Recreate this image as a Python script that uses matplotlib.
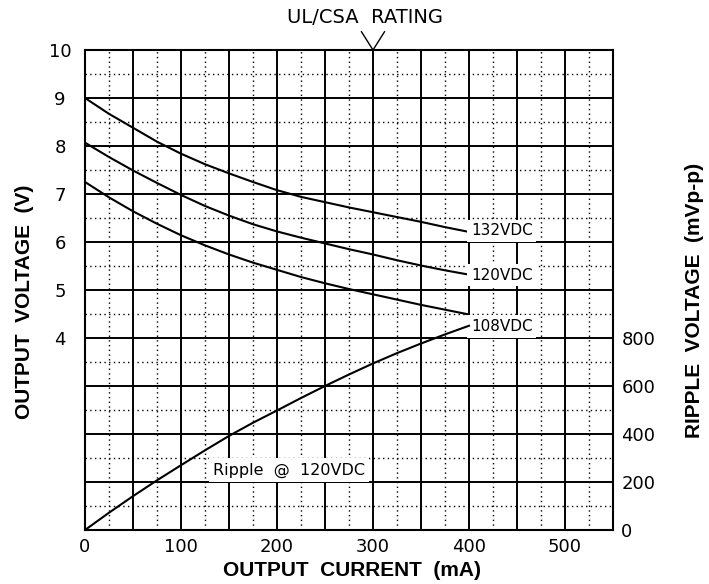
import numpy as np
import matplotlib
matplotlib.use("Agg")
import matplotlib.pyplot as plt
from matplotlib.ticker import MultipleLocator

plt.rcParams['font.family'] = ['DejaVu Sans']

# 数据：输出电流 (mA) 与输出电压 (V) / 纹波 (mVp-p)
current = [0, 25, 50, 75, 100, 125, 150, 175, 200, 225, 250, 275, 300, 325, 350, 375, 400]
v_132 = [9.00, 8.67, 8.38, 8.09, 7.84, 7.62, 7.43, 7.25, 7.08,
         6.94, 6.83, 6.72, 6.62, 6.52, 6.42, 6.31, 6.21]
v_120 = [8.07, 7.77, 7.49, 7.23, 6.98, 6.75, 6.55, 6.37, 6.22,
         6.09, 5.97, 5.85, 5.74, 5.62, 5.51, 5.41, 5.32]
v_108 = [7.25, 6.93, 6.64, 6.38, 6.14, 5.93, 5.74, 5.57, 5.42,
         5.27, 5.14, 5.02, 4.91, 4.80, 4.69, 4.59, 4.49]
ripple = [0, 72, 141, 207, 270, 332, 392, 447, 498,
          550, 600, 648, 694, 737, 777, 815, 851]

left_ticks = [4, 5, 6, 7, 8, 9, 10]
right_ticks = [0, 200, 400, 600, 800]
bottom_ticks = [0, 100, 200, 300, 400, 500]

fig = plt.figure(figsize=(7.09, 5.84), dpi=100)
ax = fig.add_axes([85 / 709, 54 / 584, 528 / 709, 480 / 584])

ax.set_xlim(0, 550)
ax.set_ylim(0, 10)

# 网格：实线 + 点线
ax.xaxis.set_major_locator(MultipleLocator(50))
ax.xaxis.set_minor_locator(MultipleLocator(25))
ax.yaxis.set_major_locator(MultipleLocator(1))
ax.yaxis.set_minor_locator(MultipleLocator(0.5))
ax.grid(which='major', color='black', linewidth=1.4, linestyle='-')
ax.grid(which='minor', color='black', linewidth=1.0, linestyle=(0, (1, 2.4)))
ax.set_axisbelow(True)

xt = np.arange(0, 551, 50)
ax.set_xticks(xt)
ax.set_xticklabels([str(t) if t in bottom_ticks else '' for t in xt])
ax.set_yticks(np.arange(0, 11, 1))
ax.set_yticklabels([str(t) if t in left_ticks else '' for t in range(0, 11)])
ax.tick_params(which='both', length=0)
ax.tick_params(axis='x', pad=6, labelsize=13)
ax.tick_params(axis='y', pad=18, labelsize=13)
for lab in ax.get_yticklabels():
    lab.set_horizontalalignment('center')

for s in ax.spines.values():
    s.set_linewidth(1.5)

ax.plot(current, v_132, color='black', linewidth=1.5, zorder=3)
ax.plot(current, v_120, color='black', linewidth=1.5, zorder=3)
ax.plot(current, v_108, color='black', linewidth=1.5, zorder=3)

# 右侧纹波坐标轴
ax2 = ax.twinx()
ax2.set_ylim(0, 2000)
ax2.set_yticks(right_ticks)
ax2.tick_params(length=0, pad=6, labelsize=13)
for s in ax2.spines.values():
    s.set_visible(False)
ax2.plot(current, ripple, color='black', linewidth=1.5)

# 曲线标注
box = dict(facecolor='white', edgecolor='none', boxstyle='square,pad=0.25')
ax.text(402, 6.23, '132VDC', fontsize=11, ha='left', va='center', bbox=box, zorder=4)
ax.text(402, 5.31, '120VDC', fontsize=11, ha='left', va='center', bbox=box, zorder=4)
ax.text(402, 4.24, '108VDC', fontsize=11, ha='left', va='center', bbox=box, zorder=4)
ax.text(133, 1.25, 'Ripple  @  120VDC', fontsize=11.5, ha='left', va='center', bbox=box, zorder=4)

# UL/CSA 额定标记
ax.text(292, 10.67, 'UL/CSA  RATING', fontsize=14, ha='center', va='center', clip_on=False)
ax.plot([288, 300, 312], [10.38, 10.0, 10.38], color='black', linewidth=1.0, clip_on=False)

title_font = dict(family='Liberation Sans', fontsize=15, fontweight='bold')
fig.text(352 / 709, 1 - 570 / 584, 'OUTPUT  CURRENT  (mA)', ha='center', va='center', **title_font)
fig.text(25 / 709, 1 - 302 / 584, 'OUTPUT  VOLTAGE  (V)', ha='center', va='center',
         rotation=90, **title_font)
fig.text(694 / 709, 1 - 300 / 584, 'RIPPLE  VOLTAGE  (mVp-p)', ha='center', va='center',
         rotation=90, **title_font)

fig.savefig('out.png', dpi=100)
